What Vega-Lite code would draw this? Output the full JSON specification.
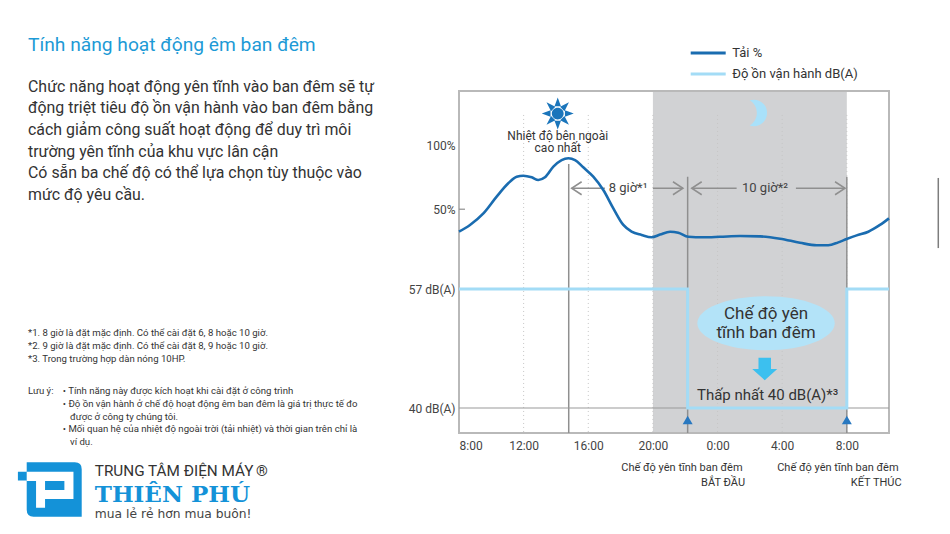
{
"$schema":"https://vega.github.io/schema/vega-lite/v6.json",
"width":430,"height":342,
"autosize":{"type":"none"},
"padding":{"left":459,"top":91,"right":61,"bottom":101},
"background":"white",
"config":{"font":"Roboto","view":{"stroke":"#b9b9b9","strokeWidth":2},"text":{"font":"Roboto"}},
"encoding":{"x":{"field":"hour","type":"quantitative","title":null,"scale":{"domain":[8,34.61],"nice":false,"zero":false},"axis":{"values":[8,12,16,20,24,28,32],"labelExpr":"(datum.value%24)+':00'","domain":false,"ticks":false,"grid":false,"labelPadding":7,"labelFontSize":12,"labelColor":"#444444"}}},
"resolve":{"scale":{"y":"independent"},"axis":{"y":"independent"}},
"layer":[
{"encoding":{"y":{"field":"pct","type":"quantitative","title":null,"scale":{"domain":[-126.2,143.07],"nice":false,"zero":false},"axis":{"orient":"left","values":[100,50],"labelExpr":"datum.value+'%'","domain":false,"ticks":false,"grid":false,"labelPadding":4,"labelFontSize":12,"labelColor":"#444444"}}},
"layer":[
{"data":{"values":[{"hour":20,"hour2":32,"pct":-125.4,"pct2":142.3}]},"mark":{"type":"rect","fill":"#d1d2d4"},"encoding":{"x2":{"field":"hour2"},"y2":{"field":"pct2"}}},
{"data":{"values":[{"hour":12,"pct":124.2,"pct2":-126.2},{"hour":16,"pct":124.2,"pct2":-126.2},{"hour":20,"pct":124.2,"pct2":-126.2},{"hour":24,"pct":124.2,"pct2":-126.2},{"hour":28,"pct":124.2,"pct2":-126.2},{"hour":32,"pct":124.2,"pct2":-126.2}]},"mark":{"type":"rule","stroke":"#c6c6c6","strokeDash":[1,3],"strokeWidth":1},"encoding":{"y2":{"field":"pct2"}}},
{"data":{"values":[{"hour":14.79,"pct":85.6,"pct2":-126.2},{"hour":22.15,"pct":75.6,"pct2":-126.2},{"hour":32,"pct":75.6,"pct2":-126.2}]},"mark":{"type":"rule","stroke":"#8f8f8f","strokeWidth":1.5},"encoding":{"y2":{"field":"pct2"}}},
{"data":{"values":[{"hour":8,"hour2":8.37,"pct":50}]},"mark":{"type":"rule","stroke":"#8f8f8f","strokeWidth":1.2},"encoding":{"x2":{"field":"hour2"}}},
{"data":{"values":[{"hour":14.97,"hour2":17.03,"pct":66.5},{"hour":20,"hour2":21.86,"pct":66.5},{"hour":22.4,"hour2":25.18,"pct":66.5},{"hour":28.85,"hour2":31.89,"pct":66.5}]},"mark":{"type":"rule","stroke":"#8f8f8f","strokeWidth":1.5},"encoding":{"x2":{"field":"hour2"}}},
{"data":{"values":[{"hour":14.97,"pct":66.5,"dir":"left"},{"hour":21.86,"pct":66.5,"dir":"right"},{"hour":22.4,"pct":66.5,"dir":"left"},{"hour":31.89,"pct":66.5,"dir":"right"}]},"mark":{"type":"point","filled":false,"size":400,"stroke":"#8f8f8f","strokeWidth":1.5,"opacity":1},"encoding":{"shape":{"field":"dir","legend":null,"scale":{"domain":["left","right"],"range":["M1,-0.65 L0,0 L1,0.65","M-1,-0.65 L0,0 L-1,0.65"]}}}},
{"data":{"values":[
{"hour":8,"pct":32.3,"series":"Tải %"},{"hour":8.68,"pct":37.6,"series":"Tải %"},{"hour":9.51,"pct":46.7,"series":"Tải %"},{"hour":10.33,"pct":59.9,"series":"Tải %"},{"hour":11.05,"pct":70.4,"series":"Tải %"},{"hour":11.57,"pct":75.6,"series":"Tải %"},{"hour":11.98,"pct":76.4,"series":"Tải %"},{"hour":12.5,"pct":75.1,"series":"Tải %"},{"hour":12.91,"pct":73,"series":"Tải %"},{"hour":13.32,"pct":75.1,"series":"Tải %"},{"hour":13.84,"pct":83.5,"series":"Tải %"},{"hour":14.35,"pct":88.7,"series":"Tải %"},{"hour":14.77,"pct":90.1,"series":"Tải %"},{"hour":15.18,"pct":88.7,"series":"Tải %"},{"hour":15.69,"pct":83,"series":"Tải %"},{"hour":16.31,"pct":75.6,"series":"Tải %"},{"hour":16.93,"pct":65.1,"series":"Tải %"},{"hour":17.55,"pct":50.7,"series":"Tải %"},{"hour":18.17,"pct":37.6,"series":"Tải %"},{"hour":18.68,"pct":32.3,"series":"Tải %"},{"hour":19.3,"pct":29.7,"series":"Tải %"},{"hour":19.92,"pct":27.9,"series":"Tải %"},{"hour":20.44,"pct":30,"series":"Tải %"},{"hour":21.06,"pct":32.3,"series":"Tải %"},{"hour":21.57,"pct":31.5,"series":"Tải %"},{"hour":22.19,"pct":28.3,"series":"Tải %"},{"hour":23.12,"pct":27.9,"series":"Tải %"},{"hour":24.15,"pct":28.3,"series":"Tải %"},{"hour":25.39,"pct":28.9,"series":"Tải %"},{"hour":26.63,"pct":28.6,"series":"Tải %"},{"hour":27.87,"pct":26.8,"series":"Tải %"},{"hour":29.1,"pct":23.6,"series":"Tải %"},{"hour":30.13,"pct":21.6,"series":"Tải %"},{"hour":30.85,"pct":21.6,"series":"Tải %"},{"hour":31.47,"pct":23.9,"series":"Tải %"},{"hour":31.99,"pct":26.5,"series":"Tải %"},{"hour":32.61,"pct":29.4,"series":"Tải %"},{"hour":33.33,"pct":32.3,"series":"Tải %"},{"hour":34.05,"pct":37.6,"series":"Tải %"},{"hour":34.61,"pct":42.8,"series":"Tải %"}]},
"mark":{"type":"line","interpolate":"monotone","strokeWidth":2.6},
"encoding":{"color":{"field":"series","type":"nominal","scale":{"domain":["Tải %","Độ ồn vận hành dB(A)"],"range":["#1a6cb0","#a3dcf6"]},"legend":{"orient":"none","legendX":230.2,"legendY":-46,"title":null,"padding":0,"symbolType":"stroke","symbolSize":1225,"symbolStrokeWidth":3,"clipHeight":16,"rowPadding":5,"labelOffset":5,"labelFontSize":13,"labelColor":"#333333"}}}},
{"data":{"values":[{"hour":14.11,"pct":125.3}]},"mark":{"type":"point","filled":true,"opacity":1,"size":1024,"fill":"#1a75bb","stroke":null,"shape":"M-0.37,0 A0.37,0.37 0 1,1 0.37,0 A0.37,0.37 0 1,1 -0.37,0 Z M-0.2,-0.45 L0.2,-0.45 L0,-1 Z M-0.2,0.45 L0.2,0.45 L0,1 Z M-0.45,-0.2 L-0.45,0.2 L-1,0 Z M0.45,-0.2 L0.45,0.2 L1,0 Z M0.15,-0.42 L0.42,-0.15 L0.7,-0.7 Z M0.42,0.15 L0.15,0.42 L0.7,0.7 Z M-0.15,0.42 L-0.42,0.15 L-0.7,0.7 Z M-0.42,-0.15 L-0.15,-0.42 L-0.7,-0.7 Z"}},
{"data":{"values":[{"hour":26.23,"pct":125.8}]},"mark":{"type":"point","filled":true,"opacity":1,"size":708,"fill":"#a9e1fa","stroke":null,"shape":"M-0.3,-0.95 A1,1 0 1,1 -0.3,0.95 A1.1,1.1 0 0,0 -0.3,-0.95 Z"}},
{"data":{"values":[{"hour":27,"pct":-39.8}]},"mark":{"type":"point","filled":true,"opacity":1,"size":18879,"fill":"#b3e3f8","stroke":null,"shape":"M-1,0 A1,0.393 0 1,1 1,0 A1,0.393 0 1,1 -1,0 Z"}},
{"data":{"values":[{"hour":26.92,"pct":-75.8}]},"mark":{"type":"point","filled":true,"opacity":1,"size":625,"fill":"#3cc0ef","stroke":null,"shape":"M-0.5,-0.9 L0.5,-0.9 L0.5,0 L1,0 L0,0.9 L-1,0 L-0.5,0 Z"}},
{"data":{"values":[{"hour":22.15,"pct":-116},{"hour":32,"pct":-116}]},"mark":{"type":"point","filled":true,"opacity":1,"size":100,"fill":"#2878c0","stroke":null,"shape":"triangle-up"}},
{"data":{"values":[{"hour":37.66,"pct":74.6,"pct2":19.4}]},"mark":{"type":"rule","stroke":"#7d7d7d","strokeWidth":1.5},"encoding":{"y2":{"field":"pct2"}}},
{"data":{"values":[{"hour":14.11,"pct":108,"label":"Nhiệt độ bên ngoài"},{"hour":14.11,"pct":97.8,"label":"cao nhất"}]},"mark":{"type":"text","fontSize":12,"fill":"#333333","align":"center","baseline":"middle"},"encoding":{"text":{"field":"label"}}},
{"data":{"values":[{"hour":18.46,"pct":66.5,"label":"8 giờ*¹"},{"hour":26.94,"pct":66.5,"label":"10 giờ*²"}]},"mark":{"type":"text","fontSize":13,"fill":"#444444","align":"center","baseline":"middle"},"encoding":{"text":{"field":"label"}}},
{"data":{"values":[{"hour":27,"pct":-32.8,"label":"Chế độ yên"},{"hour":27,"pct":-47.7,"label":"tĩnh ban đêm"}]},"mark":{"type":"text","fontSize":17,"fill":"#333333","align":"center","baseline":"middle"},"encoding":{"text":{"field":"label"}}},
{"data":{"values":[{"hour":27.1,"pct":-96.3,"label":"Thấp nhất 40 dB(A)*³"}]},"mark":{"type":"text","fontSize":15,"fill":"#333333","align":"center","baseline":"middle"},"encoding":{"text":{"field":"label"}}},
{"data":{"values":[{"hour":25.55,"pct":-154,"label":"Chế độ yên tĩnh ban đêm"},{"hour":25.7,"pct":-165.8,"label":"BẮT ĐẦU"},{"hour":35.2,"pct":-154,"label":"Chế độ yên tĩnh ban đêm"},{"hour":35.39,"pct":-165.8,"label":"KẾT THÚC"}]},"mark":{"type":"text","fontSize":11,"fill":"#333333","align":"right","baseline":"middle"},"encoding":{"text":{"field":"label"}}},
{"data":{"values":[{"hour":-18.67,"pct":179.3,"label":"Tính năng hoạt động êm ban đêm"}]},"mark":{"type":"text","fontSize":19.2,"fill":"#1d9ad6","align":"left","baseline":"middle"},"encoding":{"text":{"field":"label"}}},
{"data":{"values":[{"hour":-18.67,"pct":146.5,"label":"Chức năng hoạt động yên tĩnh vào ban đêm sẽ tự"},{"hour":-18.67,"pct":129.5,"label":"động triệt tiêu độ ồn vận hành vào ban đêm bằng"},{"hour":-18.67,"pct":112.4,"label":"cách giảm công suất hoạt động để duy trì môi"},{"hour":-18.67,"pct":95.3,"label":"trường yên tĩnh của khu vực lân cận"},{"hour":-18.67,"pct":78.8,"label":"Có sẵn ba chế độ có thể lựa chọn tùy thuộc vào"},{"hour":-18.67,"pct":61.4,"label":"mức độ yêu cầu."}]},"mark":{"type":"text","fontSize":15.9,"fill":"#333333","align":"left","baseline":"middle"},"encoding":{"text":{"field":"label"}}},
{"data":{"values":[{"hour":-18.67,"pct":-47.7,"label":"*1. 8 giờ là đặt mặc định. Có thể cài đặt 6, 8 hoặc 10 giờ."},{"hour":-18.67,"pct":-57.7,"label":"*2. 9 giờ là đặt mặc định. Có thể cài đặt 8, 9 hoặc 10 giờ."},{"hour":-18.67,"pct":-67.9,"label":"*3. Trong trường hợp dàn nóng 10HP."},{"hour":-18.67,"pct":-93.1,"label":"Lưu ý:"},{"hour":-16.52,"pct":-93.1,"label":"• Tính năng này được kích hoạt khi cài đặt ở công trình"},{"hour":-16.52,"pct":-103.4,"label":"• Độ ồn vận hành ở chế độ hoạt động êm ban đêm là giá trị thực tế đo"},{"hour":-16.07,"pct":-113.6,"label":"được ở công ty chúng tôi."},{"hour":-16.52,"pct":-123.3,"label":"• Mối quan hệ của nhiệt độ ngoài trời (tải nhiệt) và thời gian trên chỉ là"},{"hour":-16.07,"pct":-133.5,"label":"ví dụ."}]},"mark":{"type":"text","fontSize":9.6,"fill":"#333333","align":"left","baseline":"middle"},"encoding":{"text":{"field":"label"}}},
{"data":{"values":[{"hour":-17.05,"pct":-170.7}]},"mark":{"type":"point","filled":true,"opacity":1,"size":3025,"fill":"#1492d8","stroke":null,"shape":"M-1,-0.99 L0.75,-0.99 Q1,-0.99 1,-0.74 L1,0.99 L-0.75,0.99 Q-1,0.99 -1,0.74 L-1,-0.33 L-1.32,-0.33 L-1.32,-0.65 L-1,-0.65 Z"}},
{"data":{"values":[{"hour":-17.05,"pct":-170.7}]},"mark":{"type":"point","filled":true,"opacity":1,"size":3025,"fill":"#ffffff","stroke":null,"shape":"M-1,-0.65 L0.7,-0.65 L0.7,0.345 L-0.333,0.345 L-0.333,0.66 L-0.66,0.66 L-0.66,-0.31 L-1,-0.31 Z M-0.333,-0.31 L-0.333,0.02 L0.37,0.02 L0.37,-0.31 Z"}},
{"data":{"values":[{"hour":-14.54,"pct":-156.1,"label":"TRUNG TÂM ĐIỆN MÁY"}]},"mark":{"type":"text","fontSize":15.3,"fill":"#333333","align":"left","baseline":"middle"},"encoding":{"text":{"field":"label"}}},
{"data":{"values":[{"hour":-4.56,"pct":-156.1,"label":"®"}]},"mark":{"type":"text","fontSize":15,"fill":"#333333","align":"left","baseline":"middle"},"encoding":{"text":{"field":"label"}}},
{"data":{"values":[{"hour":-14.54,"pct":-175.3,"label":"THIÊN PHÚ"}]},"mark":{"type":"text","fontSize":23,"font":"DejaVu Serif","fontWeight":"bold","fill":"#1492d8","align":"left","baseline":"middle"},"encoding":{"text":{"field":"label"}}},
{"data":{"values":[{"hour":-14.54,"pct":-189.6,"label":"mua lẻ rẻ hơn mua buôn!"}]},"mark":{"type":"text","fontSize":12.3,"font":"DejaVu Sans","fill":"#444444","align":"left","baseline":"middle"},"encoding":{"text":{"field":"label"}}}
]},
{"encoding":{"y":{"field":"db","type":"quantitative","title":null,"scale":{"domain":[36.43,85.3],"nice":false,"zero":false},"axis":{"orient":"left","values":[57,40],"labelExpr":"datum.value+' dB(A)'","domain":false,"ticks":false,"grid":false,"labelPadding":4,"labelFontSize":12,"labelColor":"#444444"}}},
"layer":[
{"data":{"values":[{"hour":8,"hour2":34.61,"db":40}]},"mark":{"type":"rule","stroke":"#9a9a9a","strokeWidth":1.2},"encoding":{"x2":{"field":"hour2"}}},
{"data":{"values":[{"hour":8,"db":57,"series":"Độ ồn vận hành dB(A)","o":1},{"hour":22.15,"db":57,"series":"Độ ồn vận hành dB(A)","o":2},{"hour":22.15,"db":40,"series":"Độ ồn vận hành dB(A)","o":3},{"hour":32,"db":40,"series":"Độ ồn vận hành dB(A)","o":4},{"hour":32,"db":57,"series":"Độ ồn vận hành dB(A)","o":5},{"hour":34.61,"db":57,"series":"Độ ồn vận hành dB(A)","o":6}]},"mark":{"type":"line","strokeWidth":3},"encoding":{"order":{"field":"o","type":"quantitative"},"color":{"field":"series","type":"nominal","scale":{"domain":["Tải %","Độ ồn vận hành dB(A)"],"range":["#1a6cb0","#a3dcf6"]},"legend":{"orient":"none","legendX":230.2,"legendY":-46,"title":null,"padding":0,"symbolType":"stroke","symbolSize":1225,"symbolStrokeWidth":3,"clipHeight":16,"rowPadding":5,"labelOffset":5,"labelFontSize":13,"labelColor":"#333333"}}}}
]}
]
}
